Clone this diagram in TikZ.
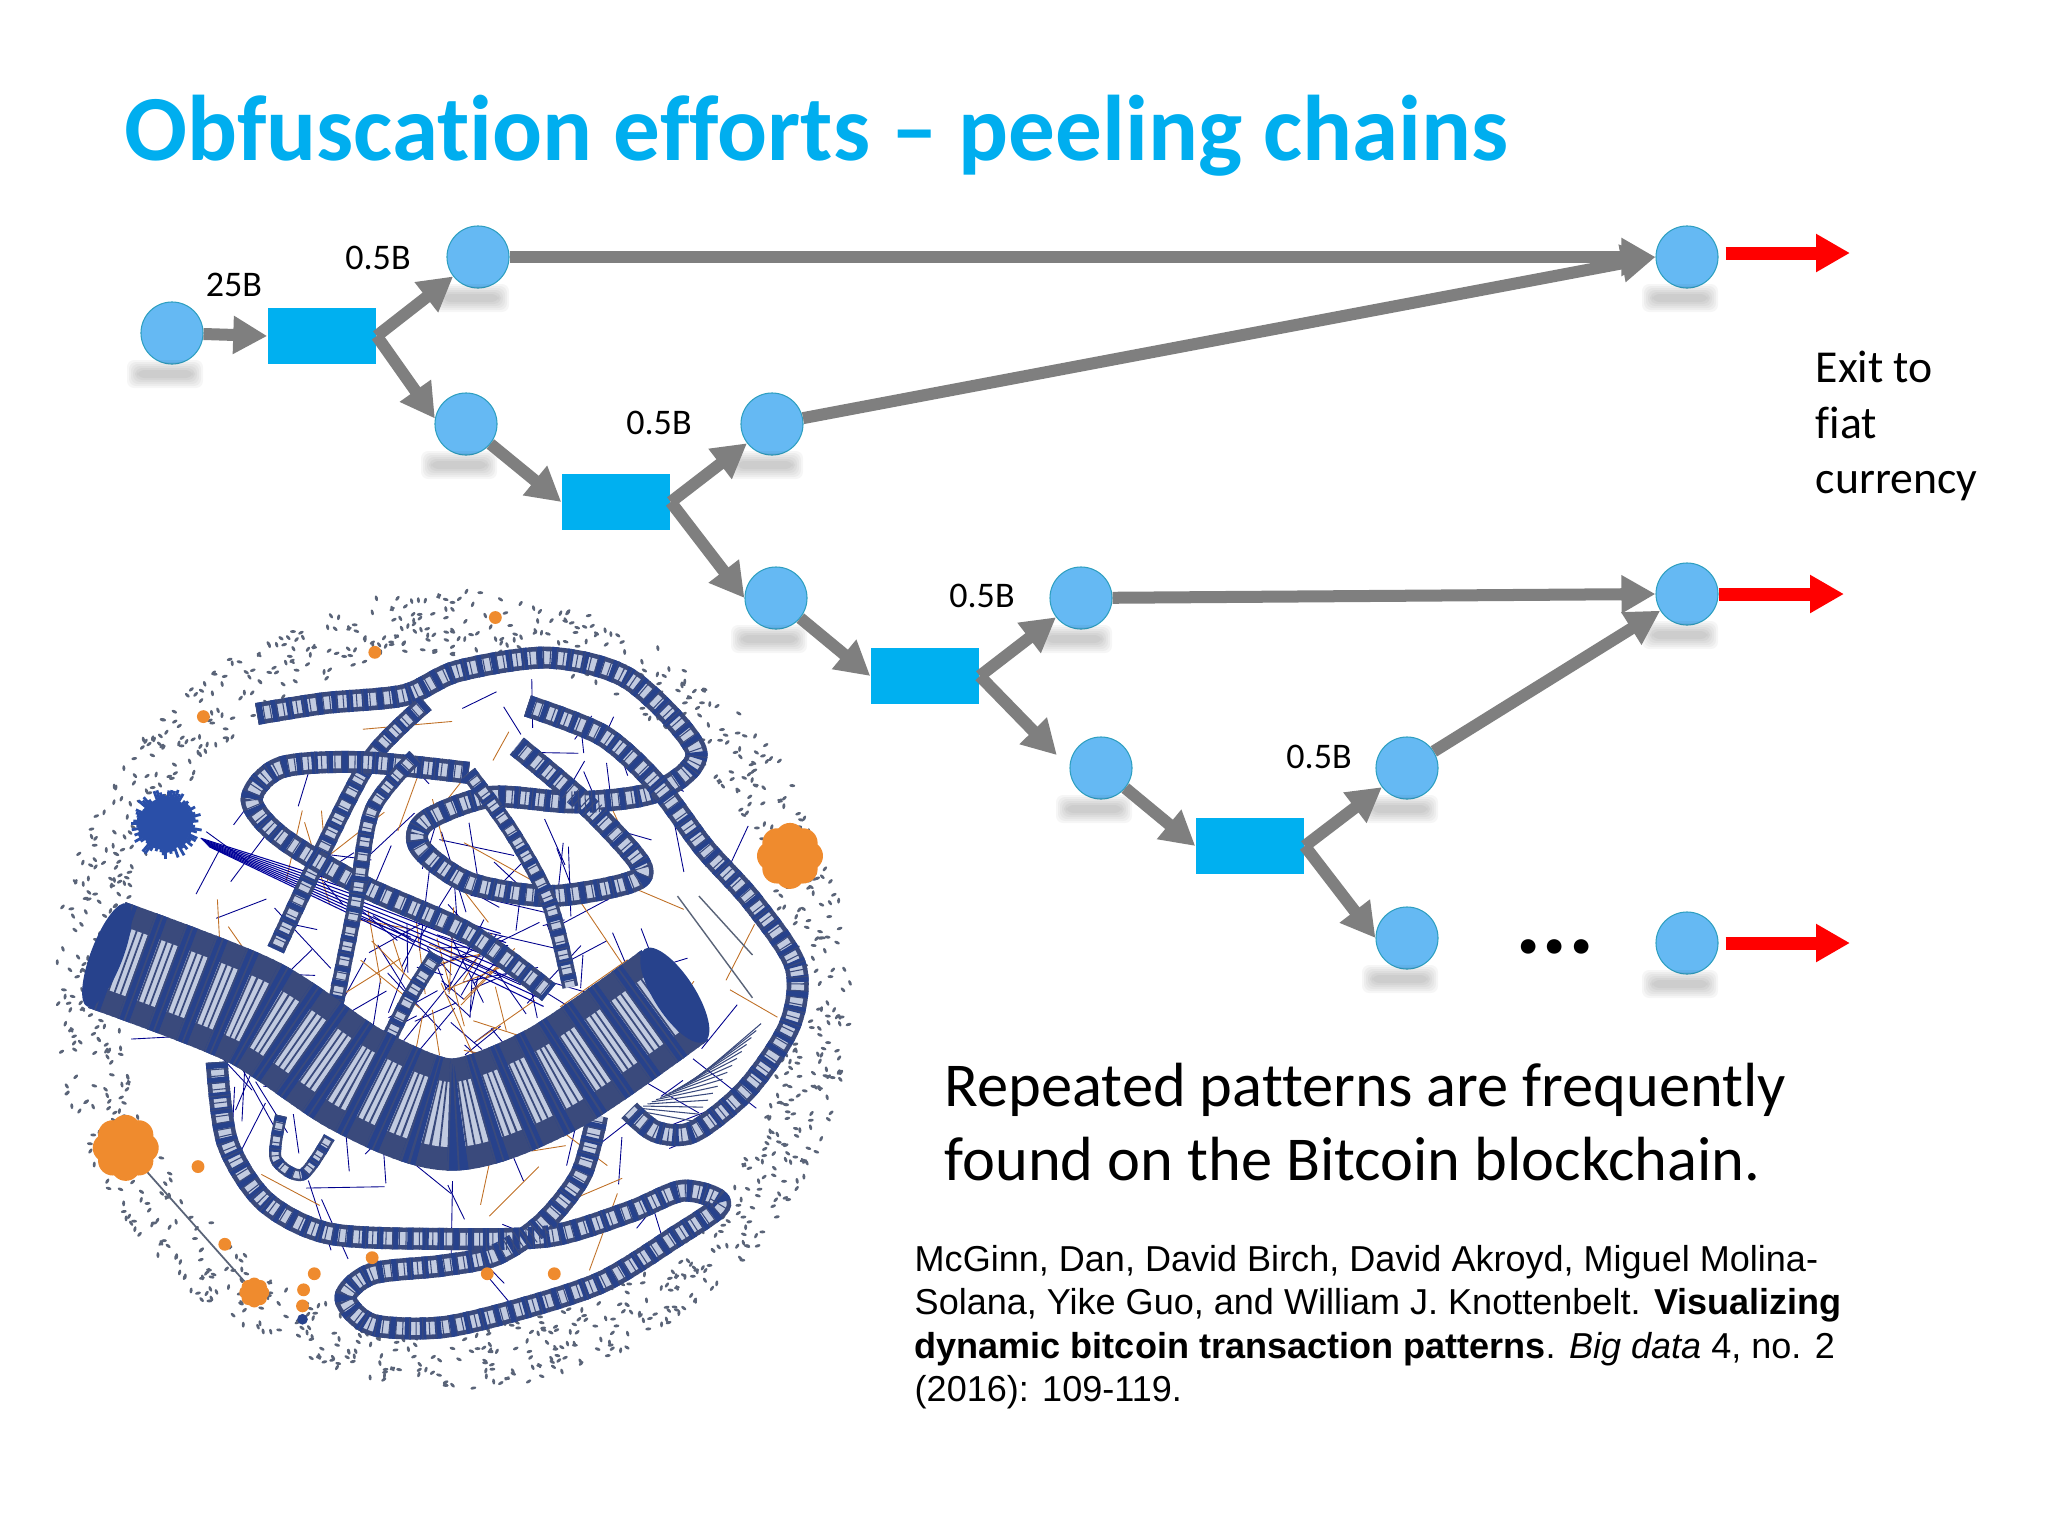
\documentclass[tikz,border=0pt]{standalone}
\usepackage{fontspec}
\setmainfont[RawFeature={-liga}]{Carlito}
\newfontfamily\citefont{Liberation Sans}
\usetikzlibrary{arrows.meta}
\definecolor{titleblue}{HTML}{00AEEF}
\definecolor{ballblue}{HTML}{65B9F3}
\definecolor{ballrim}{HTML}{2E9FC0}
\definecolor{boxblue}{HTML}{00B0F0}
\definecolor{flowgray}{HTML}{7F7F7F}
\definecolor{tubedark}{HTML}{3A4A7C}
\definecolor{tubepale}{HTML}{C2CBE0}
\definecolor{tubeblue}{HTML}{27428C}
\definecolor{speck}{HTML}{5A6478}
\definecolor{puff}{HTML}{EF8B2E}
\definecolor{puffball}{HTML}{2A4FA8}
\tikzset{>={Triangle[length=3.4mm,width=3.6mm]}}
\tikzset{
	ball/.style={circle,draw=ballrim,fill=ballblue,line width=0.3pt,minimum size=6.2mm,inner sep=0pt},
	mixer/.style={rectangle,fill=boxblue,minimum width=10.8mm,minimum height=5.5mm,inner sep=0pt},
	flow/.style={draw=flowgray,line width=1.2mm},
	exit/.style={draw=red,line width=1.3mm},
	amount/.style={font=\fontsize{10.25}{12}\selectfont,inner sep=0pt},
	lift/.style={fill=black,opacity=0.035,rounded corners=2pt},
	rail/.style={line cap=butt,line join=round}
}
\newcommand{\ribbed}[4]{
	\draw[rail,tubedark,line width=#1] plot[smooth] coordinates {#4};
	\draw[rail,tubepale,line width=0.58*#1] plot[smooth] coordinates {#4};
	\draw[rail,tubeblue,line width=#1,dash pattern=#2] plot[smooth] coordinates {#4};
	\draw[rail,tubedark,line width=#1,dash pattern=#3] plot[smooth] coordinates {#4};
}
\newcommand{\rail}[2]{\ribbed{#1}{on 1.8pt off 2.5pt}{on 0.3pt off 1.6pt}{#2}}
\newcommand{\blob}[3]{
	\fill[puff] (#1,#2) circle[radius=0.7*#3];
	\foreach \a in {0,45,...,315}
		\fill[puff] (#1,#2) ++(\a:0.62*#3) circle[radius=0.5*#3];
}
\begin{document}
\begin{tikzpicture}[x=0.01cm,y=-0.01cm]
	\useasboundingbox (0,0) rectangle (2048,1536);
	\begin{scope}[shift={(40,580)},scale=0.5357]
		\pgfmathsetseed{4711}
		\foreach \i in {1,...,1150} {
			\pgfmathsetmacro\a{random(208,532)}
			\pgfmathsetmacro\r{745*(0.84+0.16*rnd)}
			\pgfmathsetmacro\b{random(0,180)}
			\fill[speck,rotate around={\b:(770,765)}] (770,765) ++(\a-\b:\r) ellipse[x radius=5.5,y radius=2.8];
		}
		\foreach \i in {1,...,190} {
			\pgfmathsetmacro\a{random(0,360)}
			\pgfmathsetmacro\r{560*rnd}
			\pgfmathsetmacro\b{random(0,360)}
			\pgfmathsetmacro\l{40+120*rnd}
			\draw[blue!55!black,line width=0.25pt] (770,765) ++(\a:\r) -- ++(\b:\l);
		}
		\foreach \i in {1,...,60} {
			\pgfmathsetmacro\a{random(0,360)}
			\pgfmathsetmacro\r{520*rnd}
			\pgfmathsetmacro\b{random(0,360)}
			\pgfmathsetmacro\l{60+110*rnd}
			\draw[puff!80!black,line width=0.25pt] (770,765) ++(\a:\r) -- ++(\b:\l);
		}
		\foreach \i in {0,...,8}
			\draw[blue!60!black,line width=0.3pt] (300+2*\i,482+2*\i) -- (860+10*\i,660+17*\i);
		\foreach \i in {0,...,14}
			\draw[tubedark,line width=0.3pt] (1110+8*\i,990-4*\i) -- (1220+9*\i,1010-13*\i);
		\draw[speck,line width=0.5pt] (160,1060) -- (400,1330);
		\draw[speck,line width=0.4pt] (1190,590) -- (1330,780);
		\draw[speck,line width=0.4pt] (1230,590) -- (1330,700);
		\rail{0.22cm}{(405,250) (530,230) (680,215) (780,170) (950,145) (1100,185) (1225,320) (1150,395) (1000,415) (840,405) (720,450) (710,500) (800,565) (950,590) (1100,565) (1120,530) (1020,420) (890,310)}
		\rail{0.22cm}{(910,235) (1050,290) (1150,380) (1240,500) (1330,600) (1410,720) (1400,830) (1320,950) (1220,1030) (1150,1030) (1100,990)}
		\rail{0.18cm}{(720,230) (620,330) (530,500) (440,690)}
		\rail{0.22cm}{(800,360) (600,340) (450,350) (395,410) (450,480) (600,570) (800,660) (950,770)}
		\rail{0.16cm}{(800,360) (880,470) (950,600) (990,760)}
		\rail{0.16cm}{(700,330) (620,430) (590,600) (550,800)}
		\rail{0.16cm}{(740,700) (690,780) (640,880)}
		\rail{0.22cm}{(330,900) (350,1050) (420,1160) (540,1220) (750,1230) (950,1225) (1100,1180) (1200,1140) (1270,1165) (1180,1230) (1050,1310) (900,1360) (750,1395) (620,1390) (570,1340) (620,1295) (750,1280) (850,1260) (940,1200) (1010,1110) (1040,1000)}
		\rail{0.12cm}{(450,1000) (440,1080) (490,1110) (540,1040)}
		\ribbed{1.12cm}{on 3.5pt off 5.5pt}{on 0.5pt off 1.3pt}{(125,700) (395,805) (595,935) (770,998) (960,930) (1185,775)}
		\fill[tubeblue,rotate around={-21:(125,700)}] (125,700) ellipse[x radius=30,y radius=103];
		\fill[tubeblue,rotate around={33:(1185,775)}] (1185,775) ellipse[x radius=38,y radius=103];
		\foreach \a in {0,5,...,355} {
			\pgfmathsetmacro\l{48+20*rnd}
			\draw[puffball,line width=0.8pt] (235,455) -- ++(\a:\l);
		}
		\fill[puffball] (235,455) circle[radius=42];
		\blob{1400}{515}{55}
		\blob{160}{1060}{55}
		\blob{400}{1330}{25}
		\foreach \x/\y in {305/255,625/135,850/70,295/1095,345/1240,620/1265,512/1295,492/1325,490/1355,835/1295,960/1295}
			\fill[puff] (\x,\y) circle[radius=12];
		\fill[tubeblue] (490,1380) circle[radius=10];
	\end{scope}
	\node[font=\fontsize{26.5}{30}\selectfont\bfseries,text=titleblue,anchor=base west,inner sep=0pt] (title) at (124,160) {Obfuscation efforts -- peeling chains};
	\node[ball] (c1) at (172,333) {};
	\node[mixer] (r1) at (322,336) {};
	\node[ball] (c2) at (478,257) {};
	\node[ball] (c3) at (466,424) {};
	\node[mixer] (r2) at (616,502) {};
	\node[ball] (c4) at (772,424) {};
	\node[ball] (c5) at (776,598) {};
	\node[mixer] (r3) at (925,676) {};
	\node[ball] (c6) at (1081,598) {};
	\node[ball] (c7) at (1101,768) {};
	\node[mixer] (r4) at (1250,846) {};
	\node[ball] (c8) at (1407,768) {};
	\node[ball] (c9) at (1407,938) {};
	\node[ball] (c10) at (1687,257) {};
	\node[ball] (c11) at (1687,594) {};
	\node[ball] (c12) at (1687,943) {};
	\foreach \c in {c1,c2,c3,c4,c5,c6,c7,c8,c9,c10,c11,c12}
		\foreach \w/\h in {38/14,36/12,34/10,32/8,30/6,28/4}
			\fill[lift] ([shift={(-7-\w,41-\h)}]\c.center) rectangle ([shift={(-7+\w,41+\h)}]\c.center);
	\draw[flow,->] (c1) -- (r1.west);
	\draw[flow,->] (r1.east) -- (c2);
	\draw[flow,->] (r1.east) -- (c3.170);
	\draw[flow,->] (c3) -- (r2.west);
	\draw[flow,->] (r2.east) -- (c4);
	\draw[flow,->] (r2.east) -- (c5.west);
	\draw[flow,->] (c5) -- (r3.west);
	\draw[flow,->] (r3.east) -- (c6);
	\draw[flow,->,shorten >=1.8mm] (r3.east) -- (c7.west);
	\draw[flow,->] (c7) -- (r4.west);
	\draw[flow,->] (r4.east) -- (c8);
	\draw[flow,->] (r4.east) -- (c9.west);
	\draw[flow,->] (c2) -- (c10.west);
	\draw[flow,->] (c4) -- (c10.west);
	\draw[flow,->] (c6) -- (c11.west);
	\draw[flow,->] (c8) -- (c11);
	\coordinate (e1) at (1850,253);
	\coordinate (e2) at (1844,594);
	\coordinate (e3) at (1850,943);
	\draw[exit,->,shorten <=0.7mm] (c10.east |- e1) -- (e1);
	\draw[exit,->] (c11.east |- e2) -- (e2);
	\draw[exit,->,shorten <=0.7mm] (c12.east |- e3) -- (e3);
	\node[amount] (a1) at (234,285) {25B};
	\node[amount] (a2) at (378,258) {0.5B};
	\node[amount] (a3) at (659,423) {0.5B};
	\node[amount] (a4) at (982,596) {0.5B};
	\node[amount] (a5) at (1319,757) {0.5B};
	\node[font=\fontsize{28}{30}\selectfont\bfseries,anchor=base,inner sep=0pt] (more) at (1555,953) {...};
	\node[font=\fontsize{13}{15.9}\selectfont,align=left,anchor=north west,inner sep=0pt] (fiat) at (1815,350) {Exit to\\fiat\\currency};
	\node[font=\fontsize{17.75}{21.1}\selectfont,align=left,anchor=north west,inner sep=0pt] (claim) at (944,1062) {Repeated patterns are frequently\\found on the Bitcoin blockchain.};
	\node[font=\citefont\fontsize{10.25}{12.25}\selectfont,align=left,anchor=north west,inner sep=0pt] (cite) at (914,1245) {McGinn, Dan, David Birch, David Akroyd, Miguel Molina-\\Solana, Yike Guo, and William J. Knottenbelt. \textbf{Visualizing}\\\textbf{dynamic bitcoin transaction patterns}. \textit{Big data} 4, no. 2\\(2016): 109-119.};
\end{tikzpicture}
\end{document}
